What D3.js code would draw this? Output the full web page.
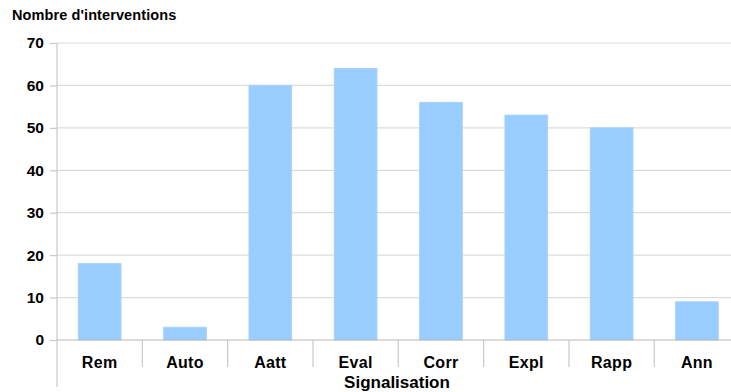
<!DOCTYPE html>
<html><head><meta charset="utf-8">
<script src="https://cdn.jsdelivr.net/npm/d3@7"></script>
<style>body{margin:0;background:#fff}svg{display:block;font-family:"Liberation Sans",Arial,sans-serif;font-weight:bold}</style>
</head><body><svg id="c" width="731" height="392"></svg>
<script>
const categories = ["Rem","Auto","Aatt","Eval","Corr","Expl","Rapp","Ann"];
const values = [18,3,60,64,56,53,50,9];
const yTicks = [0,10,20,30,40,50,60,70];
const yTitle = "Nombre d'interventions";
const xTitle = "Signalisation";

const svg = d3.select("#c");
const L = 57, R = 739.6, T = 43, B = 340;
const x = d3.scaleBand().domain(categories).range([L, R]).paddingInner(0).paddingOuter(0);
const y = d3.scaleLinear().domain([0,70]).range([B, T]);

// gridlines
svg.append("g").selectAll("line").data(yTicks.filter(d=>d>0)).join("line")
  .attr("x1", L).attr("x2", R).attr("y1", d=>y(d)).attr("y2", d=>y(d))
  .attr("stroke", "#dcdcdc").attr("stroke-width", 1.2);

// bars
const bw = x.bandwidth()*0.5;
svg.append("g").selectAll("rect").data(values).join("rect")
  .attr("x", (d,i)=>x(categories[i]) + (x.bandwidth()-bw)/2)
  .attr("width", bw)
  .attr("y", d=>y(d)).attr("height", d=>B - y(d))
  .attr("fill", "#99ccff").attr("stroke", "#a8d2fb").attr("stroke-width", 1);

// y axis
const ya = d3.axisLeft(y).tickValues(yTicks).tickSize(7).tickPadding(6);
const yg = svg.append("g").attr("transform", `translate(${L},0)`).call(ya);
yg.select(".domain").remove();
yg.selectAll(".tick line").attr("stroke", "#c8c8c8").attr("stroke-width", 1.2);
yg.selectAll("text").attr("font-size", 15.5).attr("font-weight", "bold").attr("fill", "#000").attr("font-family", "Liberation Sans, Arial, sans-serif");
svg.append("line").attr("x1", L).attr("x2", L).attr("y1", T).attr("y2", 387).attr("stroke", "#c8c8c8").attr("stroke-width", 1.2);

// x axis
const xa = d3.axisBottom(x).tickSize(0).tickPadding(16.5);
const xg = svg.append("g").attr("transform", `translate(0,${B})`).call(xa);
xg.select(".domain").remove();
xg.selectAll("text").attr("font-size", 16).attr("font-weight", "bold").attr("fill", "#000").attr("font-family", "Liberation Sans, Arial, sans-serif").attr("letter-spacing", 0.3);
svg.append("line").attr("x1", L).attr("x2", R).attr("y1", B).attr("y2", B).attr("stroke", "#b8b8b8").attr("stroke-width", 1.2);
svg.append("g").selectAll("line").data(categories.slice(1)).join("line")
  .attr("x1", d=>x(d)).attr("x2", d=>x(d)).attr("y1", B).attr("y2", 367)
  .attr("stroke", "#c8c8c8").attr("stroke-width", 1.2);

svg.append("text").attr("x", 12).attr("y", 19.5).attr("font-size", 14.5).attr("letter-spacing", 0.1).attr("fill", "#000").text(yTitle);
svg.append("text").attr("x", 397).attr("y", 388).attr("text-anchor", "middle").attr("font-size", 17).attr("fill", "#000").text(xTitle);
</script></body></html>
